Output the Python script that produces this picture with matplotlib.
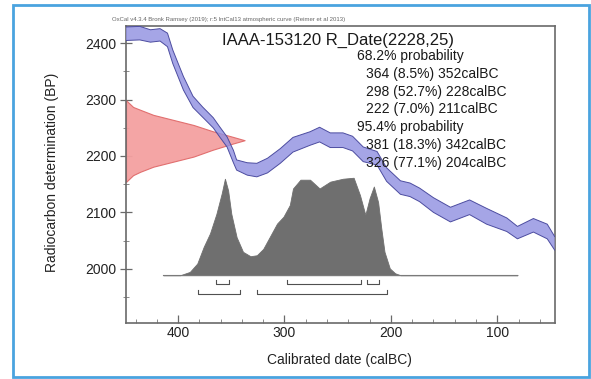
import matplotlib
matplotlib.use("Agg")
import matplotlib.pyplot as plt
import matplotlib.patches as mpatches
import numpy as np

plt.rcParams['font.family'] = ['Liberation Sans', 'DejaVu Sans']

# ---------------- data ----------------
# calibration curve (IntCal13)
cal_bc = [449, 436, 426, 417, 410, 405, 395, 386, 377, 367, 361, 354, 348, 345,
          335, 326, 316, 304, 292, 276, 267, 257, 245, 236, 226, 213, 204, 191,
          182, 173, 160, 144, 126, 110, 91, 81, 66, 53, 46]
cal_bp = [2417, 2418, 2413, 2415, 2406, 2376, 2329, 2296, 2278, 2259, 2243, 2225,
          2199, 2184, 2177, 2175, 2183, 2200, 2220, 2231, 2238, 2228, 2228, 2222,
          2203, 2196, 2167, 2144, 2140, 2131, 2113, 2096, 2109, 2093, 2078, 2064,
          2077, 2066, 2045]
cal_err = [12, 12, 11, 11, 12, 12, 12, 10, 9, 9, 9, 9, 11, 9, 11, 12, 13, 13, 13,
           12, 13, 13, 13, 13, 13, 12, 12, 12, 12, 12, 13, 13, 13, 14, 12, 11, 12,
           13, 12]

# radiocarbon measurement distribution (BP, relative probability)
rd_bp = [2299, 2287, 2282, 2273, 2264, 2255, 2244, 2234, 2228, 2222, 2211, 2199,
         2190, 2181, 2172, 2166, 2154]
rd_p = [0.0, 0.06, 0.12, 0.23, 0.40, 0.57, 0.73, 0.90, 1.0, 0.90, 0.73, 0.57,
        0.40, 0.23, 0.12, 0.06, 0.0]

# calibrated probability distribution (calBC, relative probability)
post_bc = [414, 398, 389, 382, 376, 370, 364, 359, 356, 353, 350, 345, 339, 332,
           326, 320, 314, 307, 301, 298, 295, 292, 285, 276, 267, 257, 245, 235,
           229, 224, 220, 216, 212, 209, 206, 201, 196, 191, 81]
post_p = [0.0, 0.0, 0.034, 0.12, 0.29, 0.43, 0.63, 0.84, 0.99, 0.87, 0.63, 0.39,
          0.24, 0.195, 0.205, 0.27, 0.39, 0.53, 0.60, 0.66, 0.72, 0.89, 0.98, 0.98,
          0.89, 0.96, 0.99, 1.0, 0.82, 0.62, 0.79, 0.91, 0.75, 0.48, 0.24, 0.07,
          0.02, 0.0, 0.0]

# probability ranges: (from, to, percent)
ranges68 = [(364, 352, 8.5), (298, 228, 52.7), (222, 211, 7.0)]
ranges95 = [(381, 342, 18.3), (326, 204, 77.1)]

title = "IAAA-153120 R_Date(2228,25)"
header = "OxCal v4.3.4 Bronk Ramsey (2019); r:5 IntCal13 atmospheric curve (Reimer et al 2013)"

# ---------------- figure ----------------
fig = plt.figure(figsize=(5.91, 3.79), dpi=100)
fig.patch.set_facecolor('white')
ax = fig.add_axes([126/591, 1-323/379, (555-126)/591, (323-26)/379])
ax.set_xlim(449, 45.7)
ax.set_ylim(1903.6, 2430.7)

# red measurement distribution on the y axis
xl = ax.get_xlim()
rd_scale = 111.5  # years of width for peak
rd_x = [xl[0] - p * rd_scale for p in rd_p]
ax.fill_betweenx(rd_bp, xl[0], rd_x, facecolor='#f4a0a0', edgecolor='#e06a6a',
                 lw=0.8, alpha=0.95, zorder=2)

# calibrated distribution
base = 1988.4
scale = 173
ax.fill_between(post_bc, base, [base + p * scale for p in post_p],
                facecolor='#6f6f6f', edgecolor='#6f6f6f', lw=0.6, zorder=3)
ax.plot([post_bc[0], post_bc[-1]], [base, base], color='#7a7a7a', lw=0.8, zorder=3)

# calibration curve band
lo = [b - e for b, e in zip(cal_bp, cal_err)]
hi = [b + e for b, e in zip(cal_bp, cal_err)]
ax.fill_between(cal_bc, lo, hi, facecolor='#8f8fe0', alpha=0.8, edgecolor='none', zorder=4)
ax.plot(cal_bc, lo, color='#4c4ca0', lw=0.7, zorder=4)
ax.plot(cal_bc, hi, color='#4c4ca0', lw=0.7, zorder=4)

# range brackets
def bracket(a, b, y, h=8):
    ax.plot([a, a, b, b], [y + h, y, y, y + h], color='#505050', lw=0.8, zorder=5)

for a, b, _ in ranges68:
    bracket(a, b, 1972)
for a, b, _ in ranges95:
    bracket(a, b, 1955)

# texts
def yfrac(py):
    return (323 - py) / 297.0

def xfrac(px):
    return (px - 126) / 429.0

tcol = '#1a1a1a'
ax.text(xfrac(222), yfrac(45), title, transform=ax.transAxes, fontsize=12,
        color=tcol, va='baseline', ha='left', zorder=6)
lines = [("68.2% probability", 357)]
for a, b, p in ranges68:
    lines.append(("%d (%.1f%%) %dcalBC" % (a, p, b), 366))
lines.append(("95.4% probability", 357))
for a, b, p in ranges95:
    lines.append(("%d (%.1f%%) %dcalBC" % (a, p, b), 366))
for i, (s, px) in enumerate(lines):
    ax.text(xfrac(px), yfrac(60 + i * 17.8), s, transform=ax.transAxes,
            fontsize=10, color=tcol, va='baseline', ha='left', zorder=6)

fig.text(112/591, 1-21/379, header, fontsize=4.3, color='#666666', va='baseline', ha='left')

# axes style
for sp in ax.spines.values():
    sp.set_color('#6a6a6a')
    sp.set_linewidth(1.2)
ax.set_xticks([400, 300, 200, 100])
ax.set_yticks([2000, 2100, 2200, 2300, 2400])
ax.set_xticks(np.arange(60, 450, 20), minor=True)
ax.set_yticks(np.arange(1950, 2430, 50), minor=True)
ax.tick_params(axis='x', which='major', direction='in', length=6, width=0.9,
               color='#6a6a6a', labelsize=10, pad=2, labelcolor='#222222')
ax.tick_params(axis='x', which='minor', direction='in', length=3, width=0.7, color='#8a8a8a')
ax.tick_params(axis='y', which='major', direction='inout', length=8, width=0.9,
               color='#6a6a6a', labelsize=10, pad=3, labelcolor='#222222')
ax.tick_params(axis='y', which='minor', direction='inout', length=4, width=0.7, color='#8a8a8a')

fig.text(52/591, 1-172.5/379, "Radiocarbon determination (BP)", rotation=90,
         fontsize=10, color='#222222', va='center', ha='center')
fig.text(339.7/591, 1-360/379, "Calibrated date (calBC)", fontsize=10,
         color='#222222', va='center', ha='center')

# outer blue frame
fig.patches.append(mpatches.Rectangle((13/591, 1-377/379), (589-13)/591, (377-5)/379,
                                      transform=fig.transFigure, fill=False,
                                      edgecolor='#4aa3df', lw=2.0))

fig.savefig('out.png', dpi=100, facecolor='white')
